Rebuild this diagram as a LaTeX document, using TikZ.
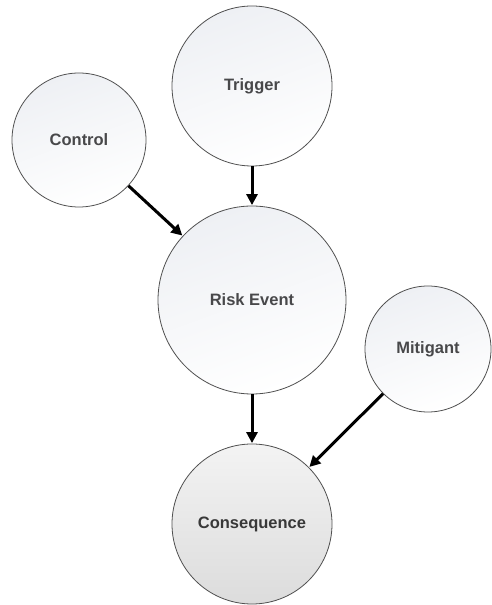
\documentclass[tikz,border=0pt]{standalone}
\usepackage{fontspec}
\setmainfont{Liberation Sans}
\usetikzlibrary{arrows.meta}
\definecolor{rimcol}{RGB}{80,80,80}
\definecolor{labelcol}{RGB}{72,72,74}
\definecolor{paletop}{RGB}{238,240,244}
\definecolor{greytop}{RGB}{243,243,243}
\definecolor{greybot}{RGB}{220,220,220}
\tikzset{
  bubble/.style={circle, draw=rimcol, line width=0.8pt, inner sep=0pt,
    top color=paletop, bottom color=white, shading angle=20,
    font=\fontsize{16.5}{18}\selectfont\bfseries, text=labelcol},
  greybubble/.style={bubble, top color=greytop, bottom color=greybot,
    shading angle=0, text=black!78},
  link/.style={line width=3pt, draw=black,
    -{Triangle[length=11pt,width=11pt]}, shorten >=0.5pt}
}
\begin{document}
\begin{tikzpicture}[x=1pt,y=1pt]
  \useasboundingbox (0,0) rectangle (491,605);
  \fill[white] (0,0) rectangle (491,605);

  % causes
  \node[bubble, minimum size=160] (trigger) at (252,519) {Trigger};
  \node[bubble, minimum size=134] (control) at (79,465) {Control};
  % central event
  \node[bubble, minimum size=188] (risk) at (252,305) {Risk Event};
  % response and outcome
  \node[bubble, minimum size=126] (mitigant) at (428,256) {Mitigant};
  \node[greybubble, minimum size=160] (consequence) at (252,81) {Consequence};

  \draw[link] (trigger) -- (risk);
  \draw[link] (control) -- (risk);
  \draw[link] (risk) -- (consequence);
  \draw[link] (mitigant) -- (consequence);
\end{tikzpicture}
\end{document}
